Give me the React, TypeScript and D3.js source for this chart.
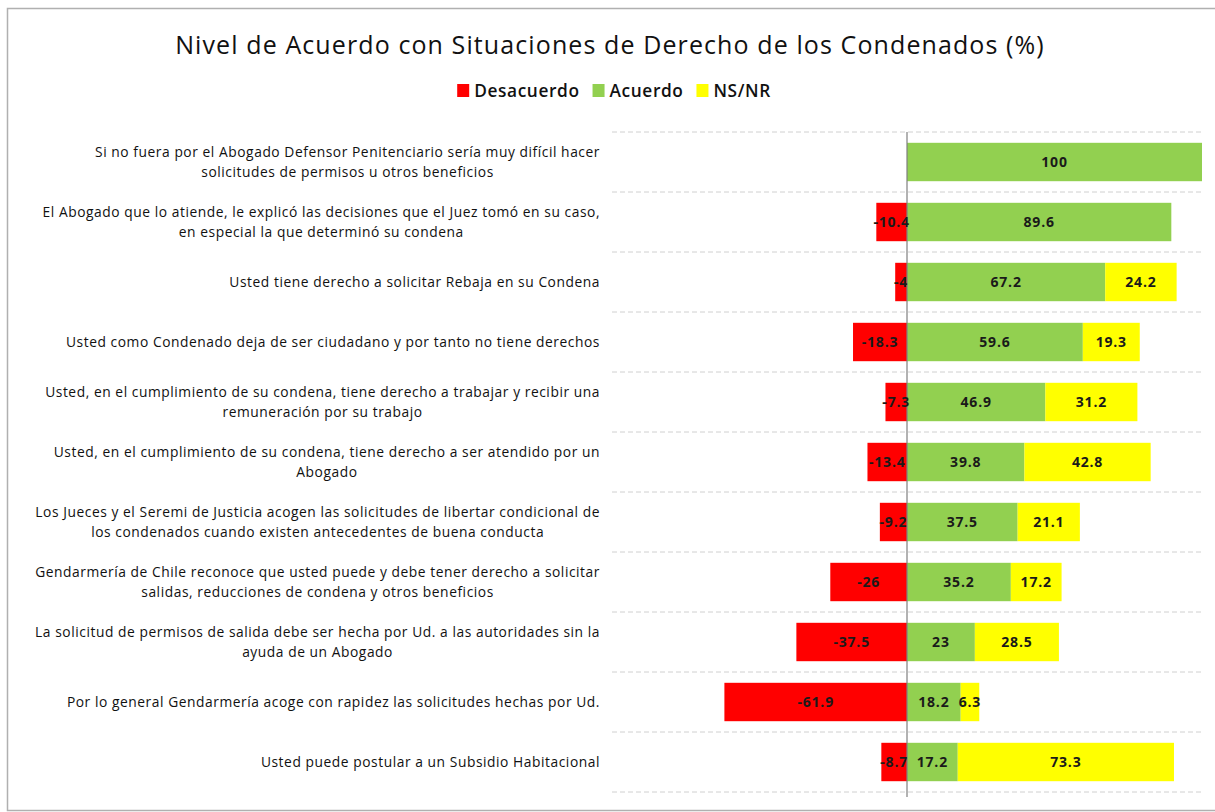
import React from "react";
import * as d3 from "d3";

const categories: string[] = [
  "Si no fuera por el Abogado Defensor Penitenciario sería muy difícil hacer\nsolicitudes de permisos u otros beneficios",
  "El Abogado que lo atiende, le explicó las decisiones que el Juez tomó en su caso,\nen especial la que determinó su condena",
  "Usted tiene derecho a solicitar Rebaja en su Condena",
  "Usted como Condenado deja de ser ciudadano y por tanto no tiene derechos",
  "Usted, en el cumplimiento de su condena, tiene derecho a trabajar y recibir una\nremuneración por su trabajo",
  "Usted, en el cumplimiento de su condena, tiene derecho a ser atendido por un\nAbogado",
  "Los Jueces y el Seremi de Justicia acogen las solicitudes de libertar condicional de\nlos condenados cuando existen antecedentes de buena conducta",
  "Gendarmería de Chile reconoce que usted puede y debe tener derecho a solicitar\nsalidas, reducciones de condena y otros beneficios",
  "La solicitud de permisos de salida debe ser hecha por Ud. a las autoridades sin la\nayuda de un Abogado",
  "Por lo general Gendarmería acoge con rapidez las solicitudes hechas por Ud.",
  "Usted puede postular a un Subsidio Habitacional",
];

const desacuerdo: number[] = [0, -10.4, -4, -18.3, -7.3, -13.4, -9.2, -26, -37.5, -61.9, -8.7];
const acuerdo: number[] = [100, 89.6, 67.2, 59.6, 46.9, 39.8, 37.5, 35.2, 23, 18.2, 17.2];
const nsnr: number[] = [0, 0, 24.2, 19.3, 31.2, 42.8, 21.1, 17.2, 28.5, 6.3, 73.3];

const seriesNames: string[] = ["Desacuerdo", "Acuerdo", "NS/NR"];
const seriesColors: string[] = ["#ff0000", "#92d050", "#ffff00"];

const title = "Nivel de Acuerdo con Situaciones de Derecho de los Condenados (%)";

const FONT = "'Open Sans', 'Noto Sans', sans-serif";

let ctx: CanvasRenderingContext2D | null = null;
function measure(text: string, font: string, ls = 0): number {
  if (!ctx) {
    const c = document.createElement("canvas");
    ctx = c.getContext("2d");
  }
  if (!ctx) return text.length * 7;
  ctx.font = font;
  return ctx.measureText(text).width + ls * text.length;
}

export default function App() {
  const W = 1215;
  const H = 812;
  const x = d3.scaleLinear().domain([-100, 100]).range([612, 1202]);
  const idx = categories.map((_, i) => i);
  const yBand = d3.scaleBand<number>().domain(idx).range([132, 792]).paddingInner(0.36).paddingOuter(0.18);
  const step = yBand.step();

  const labelFontSize = 13.8;
  const labelLS = 0.55;
  const labelFont = `${labelFontSize}px 'Open Sans'`;
  const labelRight = 600;

  const gridYs = d3.range(categories.length + 1).map((i) => 132 + i * step);

  const legendItems = seriesNames.map((n, i) => ({ name: n, color: seriesColors[i] }));
  const legendFontSize = 17.3;
  const legendLS = 0.6;
  const legendFont = `600 ${legendFontSize}px 'Open Sans'`;
  const legendWidths = legendItems.map((it) => 12 + 5 + measure(it.name, legendFont, legendLS));
  const legendGap = 13;
  const legendTotal = d3.sum(legendWidths) + legendGap * (legendItems.length - 1);
  let lx = 614 - legendTotal / 2;
  const legendPos = legendWidths.map((w) => {
    const p = lx;
    lx += w + legendGap;
    return p;
  });

  const fmt = (v: number) => String(v);

  return (
    <svg
      width={W}
      height={H}
      style={{ position: "absolute", left: 0, top: 0, background: "#fff" }}
      fontFamily={FONT}
    >
      <rect x={0} y={0} width={W} height={H} fill="#fff" />
      <rect x={7.5} y={8.5} width={W + 10} height={H - 10} fill="none" stroke="#b0b0b0" strokeWidth={1.5} />

      <text x={610} y={54} textAnchor="middle" fontSize={25} letterSpacing={1.1} fill="#111">
        {title}
      </text>

      {legendItems.map((it, i) => (
        <g key={it.name} transform={`translate(${legendPos[i]},90)`}>
          <rect x={0} y={-6} width={12} height={13} fill={it.color} />
          <text x={17} y={6.5} fontSize={legendFontSize} fontWeight={600} letterSpacing={legendLS} fill="#111">
            {it.name}
          </text>
        </g>
      ))}

      {gridYs.map((gy, i) => (
        <line key={i} x1={612} x2={1203} y1={gy} y2={gy} stroke="#d0d0d0" strokeDasharray="5,3" strokeWidth={1} />
      ))}

      {categories.map((cat, i) => {
        const y0 = yBand(i)!;
        const bh = yBand.bandwidth();
        const d = desacuerdo[i];
        const a = acuerdo[i];
        const n = nsnr[i];
        const segs = [
          { v: d, x0: x(d), x1: x(0), c: seriesColors[0] },
          { v: a, x0: x(0), x1: x(a), c: seriesColors[1] },
          { v: n, x0: x(a), x1: x(a + n), c: seriesColors[2] },
        ].filter((s) => s.v !== 0);
        return (
          <g key={i}>
            {segs.map((s, j) => (
              <rect key={j} x={s.x0} y={y0} width={s.x1 - s.x0} height={bh} fill={s.c} />
            ))}
          </g>
        );
      })}

      <line x1={x(0)} x2={x(0)} y1={132} y2={797} stroke="#7f7f7f" strokeWidth={1.2} />

      {categories.map((cat, i) => {
        const y0 = yBand(i)!;
        const bh = yBand.bandwidth();
        const cy = y0 + bh / 2;
        const d = desacuerdo[i];
        const a = acuerdo[i];
        const n = nsnr[i];
        const segs = [
          { v: d, x0: x(d), x1: x(0) },
          { v: a, x0: x(0), x1: x(a) },
          { v: n, x0: x(a), x1: x(a + n) },
        ].filter((s) => s.v !== 0);
        return (
          <g key={i}>
            {segs.map((s, j) => (
              <text
                key={j}
                x={(s.x0 + s.x1) / 2}
                y={cy + 5}
                textAnchor="middle"
                fontSize={14}
                fontWeight="bold"
                letterSpacing={0.8}
                fill="#1a1a1a"
              >
                {fmt(s.v)}
              </text>
            ))}
          </g>
        );
      })}

      {categories.map((cat, i) => {
        const lines = cat.split("\n");
        const maxW = d3.max(lines, (l) => measure(l, labelFont, labelLS)) || 0;
        const cx = labelRight - maxW / 2;
        const cy = yBand(i)! + yBand.bandwidth() / 2;
        const lh = 20;
        const startY = cy - ((lines.length - 1) * lh) / 2 + 4.8;
        return (
          <text key={i} textAnchor="middle" fontSize={labelFontSize} letterSpacing={labelLS} fill="#111">
            {lines.map((l, j) => (
              <tspan key={j} x={cx} y={startY + j * lh}>
                {l}
              </tspan>
            ))}
          </text>
        );
      })}
    </svg>
  );
}
